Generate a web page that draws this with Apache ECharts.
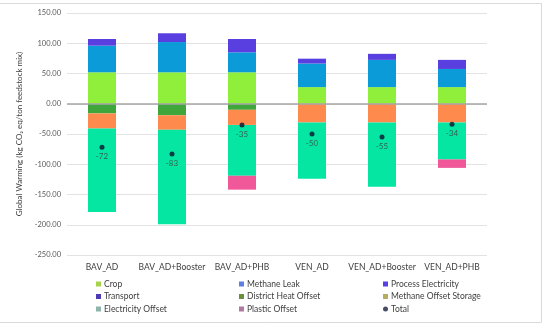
<!DOCTYPE html>
<html>
<head>
<meta charset="utf-8">
<script src="https://cdn.jsdelivr.net/npm/echarts@6/dist/echarts.min.js"></script>
<style>html,body{margin:0;padding:0;background:#fff;}#c{width:550px;height:325px;}</style>
</head>
<body>
<div id="c"></div>
<script>
const categories = ['BAV_AD', 'BAV_AD+Booster', 'BAV_AD+PHB', 'VEN_AD', 'VEN_AD+Booster', 'VEN_AD+PHB'];
const crop = [52, 52, 52, 27.5, 27.5, 27.5];
const methaneLeak = [44, 50, 33, 39, 45, 30];
const processElectricity = [11, 14.5, 22, 8, 10, 15];
const transport = [0, 0, 0, 0, 0, 0];
const districtHeatOffset = [-16, -19, -10, 0, 0, 0];
const methaneOffsetStorage = [-25, -24, -25, -31, -31, -31];
const electricityOffset = [-138, -156, -84, -93, -106, -61];
const plasticOffset = [0, 0, -23, 0, 0, -14];
const total = [-72, -83, -35, -50, -55, -34];
const yTicks = [-250, -200, -150, -100, -50, 0, 50, 100, 150];

const FONT = 'Lato';
const chart = echarts.init(document.getElementById('c'), null, {renderer: 'canvas'});

function bar(name, data, color) {
  return {
    name: name, type: 'bar', stack: 'gw', data: data, barWidth: '40%',
    itemStyle: {color: color}, emphasis: {disabled: true}
  };
}

const series = [
  bar('Crop', crop, '#90ef3b'),
  bar('Methane Leak', methaneLeak, '#0b9bd8'),
  bar('Process Electricity', processElectricity, '#5a3fe0'),
  bar('Transport', transport, '#4a3cb0'),
  bar('District Heat Offset', districtHeatOffset, '#3ea63a'),
  bar('Methane Offset Storage', methaneOffsetStorage, '#ff8a4e'),
  bar('Electricity Offset', electricityOffset, '#05e6a2'),
  bar('Plastic Offset', plasticOffset, '#f0589a'),
  {
    name: 'Total', type: 'scatter', data: total, symbol: 'circle', symbolSize: 5,
    itemStyle: {color: '#0b1230'}, z: 5,
    label: {show: true, position: 'bottom', distance: 3, fontFamily: FONT, fontSize: 8, color: '#404040',
      formatter: p => Math.round(p.value).toString()}
  }
];
series[0].markLine = {
  silent: true, symbol: 'none', label: {show: false},
  lineStyle: {color: '#a6a6a6', width: 1.5, type: 'solid'},
  data: [{yAxis: 0}]
};

const legendStyle = {
  orient: 'vertical', top: 279, padding: 0, itemWidth: 5, itemHeight: 5, itemGap: 2.5,
  height: 60,
  textStyle: {fontFamily: FONT, fontSize: 8.5, lineHeight: 10, color: '#404040', padding: [0, 0, 0, -2]},
  selectedMode: false
};
function li(name, color, icon) {
  return {name: name, icon: icon || 'rect', itemStyle: {color: color}};
}

chart.setOption({
  animation: false,
  backgroundColor: '#ffffff',
  textStyle: {fontFamily: FONT},
  grid: {left: 67, right: 63, top: 13, bottom: 70},
  xAxis: {
    type: 'category', data: categories,
    axisLine: {show: false, onZero: false}, axisTick: {show: false},
    axisLabel: {fontFamily: FONT, fontSize: 8.5, color: '#404040', margin: 8, interval: 0}
  },
  yAxis: {
    type: 'value', min: -250, max: 150, interval: 50,
    name: 'Global Warming (kg CO\u2082 eq/ton feedstock mix)',
    nameLocation: 'middle', nameGap: 43,
    nameTextStyle: {fontFamily: FONT, fontSize: 8, color: '#404040'},
    axisLine: {show: false}, axisTick: {show: false},
    axisLabel: {fontFamily: FONT, fontSize: 7.5, color: '#595959', margin: 6,
      formatter: v => yTicks.indexOf(v) >= 0 ? v.toFixed(2) : ''},
    splitLine: {lineStyle: {color: '#e3e3e3', width: 1}}
  },
  legend: [
    Object.assign({left: 96, data: [li('Crop', '#a6d34a'), li('Transport', '#4b3cb4'), li('Electricity Offset', '#8db5ad')]}, legendStyle),
    Object.assign({left: 239, data: [li('Methane Leak', '#5b7fe0'), li('District Heat Offset', '#6b8f3a'), li('Plastic Offset', '#b07aa0')]}, legendStyle),
    Object.assign({left: 383, data: [li('Process Electricity', '#5641e2'), li('Methane Offset Storage', '#b5ad60'), li('Total', '#1a2040', 'circle')]}, legendStyle)
  ],
  graphic: [{
    type: 'rect', silent: true, z: -10,
    shape: {x: -2, y: 3.5, width: 543.5, height: 319},
    style: {fill: 'none', stroke: '#d9d9d9', lineWidth: 1}
  }],
  series: series
});
</script>
</body>
</html>
